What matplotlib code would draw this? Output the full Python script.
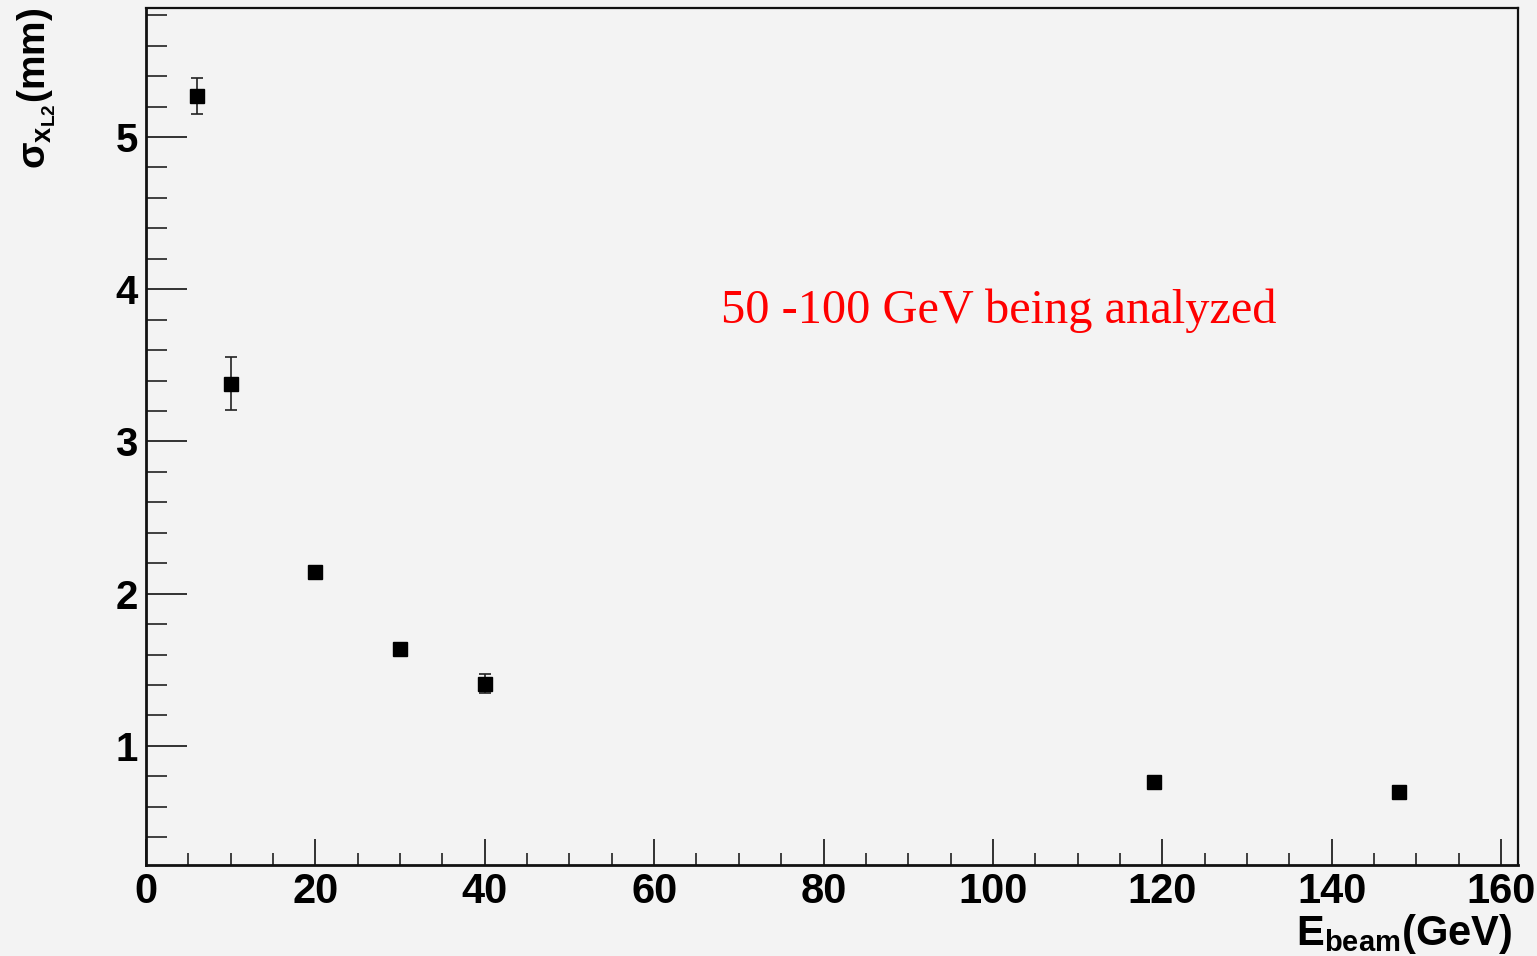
import matplotlib
matplotlib.use("Agg")
import matplotlib.pyplot as plt
from matplotlib.ticker import MultipleLocator

# Data
energy = [6, 10, 20, 30, 40, 119, 148]
sigma = [5.27, 3.38, 2.14, 1.64, 1.41, 0.76, 0.70]
sigma_err = [0.12, 0.175, 0.01, 0.025, 0.06, 0.005, 0.005]
xticks = [0, 20, 40, 60, 80, 100, 120, 140, 160]
yticks = [1, 2, 3, 4, 5]

bg = "#f3f3f3"
W, H = 1537, 956
fig = plt.figure(figsize=(W / 100, H / 100), dpi=100, facecolor=bg)
ax = fig.add_axes([146 / W, 1 - 865 / H, (1518 - 146) / W, (865 - 8) / H])
ax.set_facecolor(bg)

ax.errorbar(energy, sigma, yerr=sigma_err, fmt="s", color="black",
            markersize=9.5, ecolor="#222222", elinewidth=1.2, capsize=4,
            capthick=1.2)

ax.set_xlim(0, 162)
ax.set_ylim(0.218, 5.847)
ax.set_xticks(xticks)
ax.set_yticks(yticks)
ax.xaxis.set_minor_locator(MultipleLocator(5))
ax.yaxis.set_minor_locator(MultipleLocator(0.2))

for side, s in ax.spines.items():
    s.set_linewidth(2.0 if side in ("left", "bottom") else 1.6)
    s.set_color("#111111")

ax.tick_params(axis="x", which="major", direction="in", length=18.5, width=1.3,
               color="#222222", pad=5, top=False)
ax.tick_params(axis="x", which="minor", direction="in", length=9, width=1.2,
               color="#222222", top=False)
ax.tick_params(axis="y", which="major", direction="in", length=29.5, width=1.3,
               color="#222222", pad=6, right=False)
ax.tick_params(axis="y", which="minor", direction="in", length=15, width=1.2,
               color="#222222", right=False)

for lab in ax.get_xticklabels():
    lab.set_fontfamily("Liberation Sans")
    lab.set_fontweight("bold")
    lab.set_fontsize(30)
for lab in ax.get_yticklabels():
    lab.set_fontfamily("Liberation Sans")
    lab.set_fontweight("bold")
    lab.set_fontsize(29)

fig.text(1512 / W, 1 - 945 / H, r"$\mathregular{E_{beam}(GeV)}$", ha="right",
         va="baseline", fontsize=30, fontweight="bold",
         family="Liberation Sans")
fig.text(37 / W, 1 - 8 / H, r"$\mathregular{σ_{x_{L2}}(mm)}$", ha="center",
         va="top", rotation=90, fontsize=28, fontweight="bold",
         family="Liberation Sans")

fig.text(999 / W, 1 - 311 / H, "50 -100 GeV being analyzed", color="red",
         ha="center", va="center", fontsize=34.8, family="Liberation Serif")

fig.savefig("out.png", dpi=100, facecolor=bg)
